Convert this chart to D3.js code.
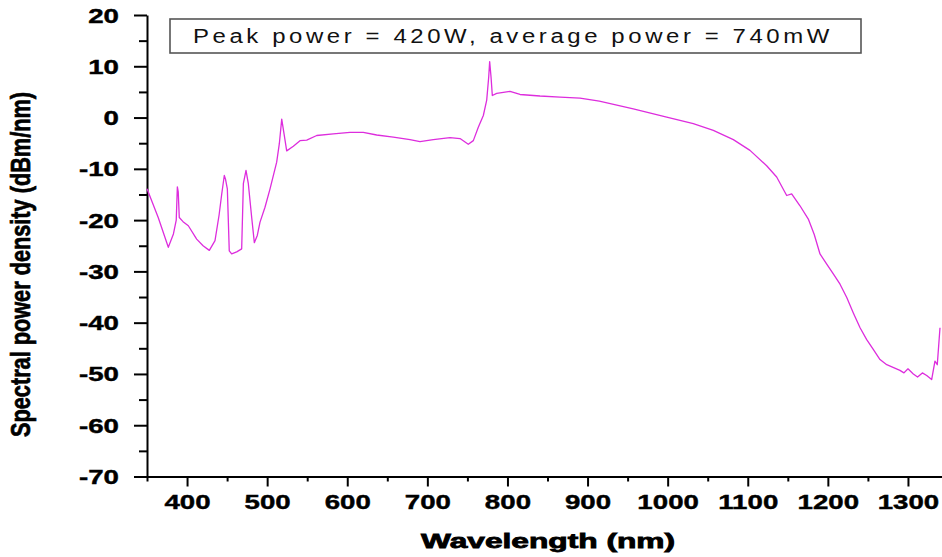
<!DOCTYPE html>
<html>
<head>
<meta charset="utf-8">
<script src="https://cdn.jsdelivr.net/npm/d3@7"></script>
<style>
  html, body { margin: 0; padding: 0; background: #fff; }
  svg { display: block; }
</style>
</head>
<body>
<svg id="chart" width="942" height="557"></svg>
<script>
// Supercontinuum spectrum: wavelength (nm) vs spectral power density (dBm/nm)
const wavelength = [
  350, 364, 376.6, 383, 386.5, 387.9, 389, 390.3, 395, 401.6, 412, 420, 427.8, 434.9,
  440, 443.3, 446.5, 448, 450.3, 452.7, 455.7, 462, 468.2, 470.3, 473.6, 476.5, 480.7,
  484, 487.7, 491.1, 497.3, 503.6, 511.9, 515.2, 518.2, 521.1, 524.4, 532.7, 541, 549.4,
  561.9, 582.6, 603.4, 620, 636.8, 657.5, 678.3, 690.8, 707.4, 728.3, 740.8, 751.1, 757.4,
  763.6, 769.9, 774.1, 776.6, 777.8, 779.5, 781.1, 786.6, 803.2, 815.7, 840.6, 865.6,
  890.6, 914.7, 957.1, 998.8, 1032, 1057, 1082, 1102.8, 1123.6, 1136.1, 1148.6, 1154.8,
  1165.2, 1175.6, 1183, 1190.2, 1198.6, 1206.8, 1215.2, 1223.6, 1231.8, 1240.2, 1248.5,
  1256.7, 1265.1, 1273.5, 1290, 1295, 1300, 1306.7, 1312, 1318, 1323.4, 1329.6, 1333.7,
  1336.6, 1340
];
const powerDensity = [
  -13.9, -19.5, -25.3, -22.7, -20, -13.5, -14.5, -19.5, -20.3, -21.1, -23.7, -25, -25.9, -24.0,
  -19, -14.9, -11.3, -12, -13.9, -26.0, -26.6, -26.2, -25.6, -12.9, -10.3, -12.9, -19.5,
  -24.4, -23.0, -20.4, -17.5, -13.9, -8.7, -5.1, -0.3, -3.2, -6.5, -5.6, -4.5, -4.4,
  -3.5, -3.2, -2.9, -2.9, -3.4, -3.8, -4.3, -4.7, -4.3, -3.9, -4.1, -5.2, -4.5,
  -1.9, 0.4, 3.4, 7.9, 10.9, 7.9, 4.3, 4.7, 5.1, 4.5, 4.2, 4.0,
  3.8, 3.2, 1.7, 0.1, -1.2, -2.5, -4.3, -6.4, -9.4, -11.6, -15.2, -14.9,
  -17.2, -19.8, -22.8, -26.6, -28.6, -30.5, -32.5, -35.1, -38.1, -41.0, -43.3,
  -45.2, -47.2, -48.2, -49.3, -49.8, -49.0, -50.0, -50.6, -49.8, -50.3, -51.1, -47.5,
  -48.2, -41.0
];

const xTicks = [400, 500, 600, 700, 800, 900, 1000, 1100, 1200, 1300];
const xMinorTicks = [350, 450, 550, 650, 750, 850, 950, 1050, 1150, 1250];
const yTicks = [20, 10, 0, -10, -20, -30, -40, -50, -60, -70];
const yMinorTicks = [15, 5, -5, -15, -25, -35, -45, -55, -65];

const annotation = "Peak power = 420W, average power = 740mW";
const xTitle = "Wavelength (nm)";
const yTitle = "Spectral power density  (dBm/nm)";

const svg = d3.select("#chart");
const FONT = "'Liberation Sans', Arial, sans-serif";
const STRETCH = 1.42; // wide rendering of glyphs along x
const plain = d => String(d); // no thousands separators, ASCII hyphen for negatives

const x = d3.scaleLinear().domain([350, 1342.5]).range([147, 942]);
const y = d3.scaleLinear().domain([-70, 20]).range([476.5, 15]);

// minor ticks
svg.append("g")
  .attr("transform", `translate(0,${y(-70)})`)
  .call(d3.axisBottom(x).tickValues(xMinorTicks).tickSize(5).tickFormat(""))
  .call(g => g.select(".domain").remove())
  .call(g => g.selectAll("line").attr("stroke", "#000").attr("stroke-width", 2));
svg.append("g")
  .attr("transform", `translate(${x(350)},0)`)
  .call(d3.axisLeft(y).tickValues(yMinorTicks).tickSize(8).tickFormat(""))
  .call(g => g.select(".domain").remove())
  .call(g => g.selectAll("line").attr("stroke", "#000").attr("stroke-width", 2));

// x axis
const gx = svg.append("g")
  .attr("transform", `translate(0,${y(-70)})`)
  .call(d3.axisBottom(x).tickValues(xTicks).tickFormat(plain).tickSize(10).tickSizeOuter(0));
gx.select(".domain").attr("stroke", "#000").attr("stroke-width", 2);
gx.selectAll(".tick line").attr("stroke", "#000").attr("stroke-width", 2);
gx.selectAll(".tick text")
  .attr("fill", "#000").attr("stroke", "#000").attr("stroke-width", 0.4)
  .style("font-family", FONT).style("font-weight", "bold").style("font-size", "19.5px")
  .attr("y", null).attr("dy", null)
  .attr("transform", `translate(0,32) scale(${STRETCH},1)`);

// y axis
const gy = svg.append("g")
  .attr("transform", `translate(${x(350)},0)`)
  .call(d3.axisLeft(y).tickValues(yTicks).tickFormat(plain).tickSize(13).tickSizeOuter(0));
gy.select(".domain").attr("stroke", "#000").attr("stroke-width", 2);
gy.selectAll(".tick line").attr("stroke", "#000").attr("stroke-width", 2);
gy.selectAll(".tick text")
  .attr("fill", "#000").attr("stroke", "#000").attr("stroke-width", 0.4)
  .style("font-family", FONT).style("font-weight", "bold").style("font-size", "19.5px")
  .attr("x", null).attr("dy", "0.36em")
  .attr("transform", `translate(-28,0) scale(${STRETCH},1)`);

// spectrum trace
const pts = wavelength.map((w, i) => [w, powerDensity[i]]);
svg.append("path")
  .datum(pts)
  .attr("fill", "none")
  .attr("stroke", "#dd2ddd")
  .attr("stroke-width", 1.3)
  .attr("stroke-linejoin", "round")
  .attr("d", d3.line().x(d => x(d[0])).y(d => y(d[1])));

// annotation box
svg.append("rect")
  .attr("x", 170).attr("y", 19).attr("width", 691).attr("height", 34)
  .attr("fill", "#fff").attr("stroke", "#555").attr("stroke-width", 1.6);
svg.append("text")
  .attr("x", 193).attr("y", 43)
  .attr("textLength", 640).attr("lengthAdjust", "spacingAndGlyphs")
  .style("font-family", FONT).style("font-size", "20px").style("letter-spacing", "3px")
  .attr("fill", "#111")
  .text(annotation);

// axis titles
svg.append("text")
  .attr("x", 421).attr("y", 548)
  .attr("textLength", 254).attr("lengthAdjust", "spacingAndGlyphs")
  .style("font-family", FONT).style("font-weight", "bold").style("font-size", "20px")
  .attr("fill", "#000").attr("stroke", "#000").attr("stroke-width", 0.8)
  .text(xTitle);

svg.append("text")
  .attr("transform", `translate(30,264.5) scale(1.4,1) rotate(-90)`)
  .attr("text-anchor", "middle")
  .attr("textLength", 345).attr("lengthAdjust", "spacingAndGlyphs")
  .style("font-family", FONT).style("font-weight", "bold").style("font-size", "20px")
  .attr("fill", "#000").attr("stroke", "#000").attr("stroke-width", 0.5)
  .text(yTitle);
</script>
</body>
</html>
